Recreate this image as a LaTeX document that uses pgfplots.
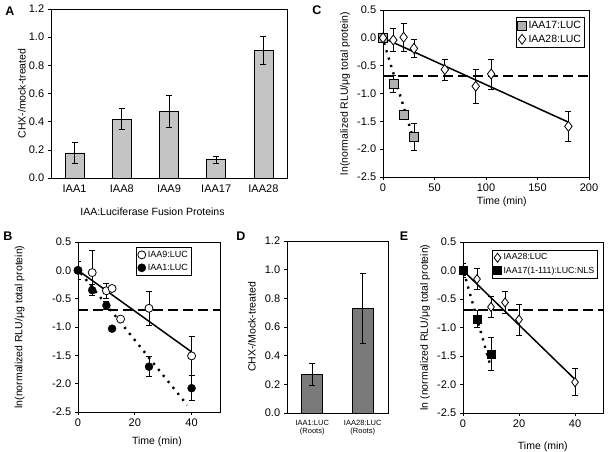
\documentclass[border=0pt]{standalone}
\usepackage{fontspec}
\setmainfont{Liberation Sans}
\usepackage{pgfplots}
\pgfplotsset{compat=1.18}
\definecolor{barA}{HTML}{C4C4C4}
\definecolor{barD}{HTML}{7A7A7A}
\definecolor{sqC}{HTML}{B0B0B0}
\pgfplotsset{
  panel/.style={scale only axis, anchor=south west,
    axis line style={line width=0.8pt}, tick align=outside, major tick length=3pt,
    tick style={line width=0.6pt, black}, tick pos=left,
    /pgf/number format/assume math mode=true,
    tick label style={font=\fontsize{11}{13}\selectfont},
    label style={font=\fontsize{10.5}{12.5}\selectfont},
    y tick label style={/pgf/number format/.cd, fixed, fixed zerofill, precision=1, /tikz/.cd},
    ylabel style={anchor=center}, xlabel style={anchor=center},
    legend cell align=left,
    legend style={draw=black, line width=0.6pt, inner sep=1.5pt, row sep=1pt},
  },
  myerr/.style={error bars/.cd, y dir=both, y explicit,
    error bar style={line width=0.8pt, black, solid},
    error mark options={rotate=90, mark size=3pt, line width=0.8pt, black, solid}},
  halfline/.style={black, line width=2pt, dash pattern=on 10pt off 5pt, forget plot},
  fitline/.style={black, line width=1.5pt, forget plot},
  dotline/.style={black, line width=2.4pt, dash pattern=on 2.2pt off 5.5pt, forget plot},
}
\begin{document}
\fontsize{11}{13}\selectfont
\begin{tikzpicture}[x=1pt,y=1pt]
\useasboundingbox (0,0) rectangle (608,452);
% panel letters
\node[font=\bfseries\fontsize{12.5}{14}\selectfont] at (10pt,441pt) {A};
\node[font=\bfseries\fontsize{12.5}{14}\selectfont] at (8pt,216pt) {B};
\node[font=\bfseries\fontsize{12.5}{14}\selectfont] at (317pt,442pt) {C};
\node[font=\bfseries\fontsize{12.5}{14}\selectfont] at (241pt,216pt) {D};
\node[font=\bfseries\fontsize{12.5}{14}\selectfont] at (404pt,216pt) {E};

% ---------------- A
\begin{axis}[panel, at={(51pt,274pt)}, width=236pt, height=169pt,
  ymin=0, ymax=1.2, ytick={0,0.2,0.4,0.6,0.8,1.0,1.2},
  xmin=-0.5, xmax=4.5, xtick={0,1,2,3,4},
  xticklabels={IAA1,IAA8,IAA9,IAA17,IAA28}, x tick style={draw=none},
  ylabel={CHX-/mock-treated}, xlabel={IAA:Luciferase Fusion Proteins},
  ylabel style={at={(axis description cs:-0.123,0.5)}},
  xlabel style={at={(axis description cs:0.43,-0.2)}}]
\addplot[ybar, bar width=19pt, fill=barA, draw=black, line width=0.8pt, myerr]
  coordinates {(0,0.178) +- (0,0.074) (1,0.417) +- (0,0.074) (2,0.470) +- (0,0.113)
               (3,0.130) +- (0,0.025) (4,0.908) +- (0,0.100)};
\end{axis}

% ---------------- C
\begin{axis}[panel, at={(383pt,275pt)}, width=206pt, height=167pt,
  xmin=0, xmax=200, xtick={0,50,100,150,200},
  ymin=-2.5, ymax=0.5, ytick={-2.5,-2,-1.5,-1,-0.5,0,0.5},
  ylabel={ln(normalized RLU/μg total protein)}, xlabel={Time (min)},
  ylabel style={at={(axis description cs:-0.184,0.5)}},
  xlabel style={at={(axis description cs:0.577,-0.15)}},
  legend style={at={(0.98,0.958)}, anchor=north east, font=\fontsize{10.5}{12}\selectfont}]
\addplot[halfline] coordinates {(0,-0.693) (200,-0.693)};
\addplot[fitline] coordinates {(0,0) (180,-1.515)};
\addplot[dotline] coordinates {(1,-0.09) (31,-1.9)};
\addplot[only marks, mark=square*, mark size=4.5pt, mark options={fill=sqC, draw=black, line width=0.6pt}, myerr]
  table[x=x, y=y, y error=e] {
x y e
0 0 0.05
10 -0.83 0.15
20 -1.38 0.08
30 -1.78 0.25
};
\addlegendentry{IAA17:LUC}
\addplot[only marks, mark=diamond*, mark size=5pt, mark options={fill=white, draw=black, line width=0.8pt}, myerr]
  table[x=x, y=y, y error=e] {
x y e
0 0 0.05
10 -0.04 0.21
20 0.01 0.25
30 -0.19 0.17
60 -0.57 0.19
90 -0.87 0.30
105 -0.65 0.27
180 -1.59 0.27
};
\addlegendentry{IAA28:LUC}
\end{axis}

% ---------------- B
\begin{axis}[panel, at={(78pt,40pt)}, width=142pt, height=170pt,
  xmin=0, xmax=50, xtick={0,20,40},
  ymin=-2.5, ymax=0.5, ytick={-2.5,-2,-1.5,-1,-0.5,0,0.5},
  ylabel={ln(normalized RLU/μg total protein)}, xlabel={Time (min)},
  ylabel style={at={(axis description cs:-0.41,0.5)}},
  xlabel style={at={(axis description cs:0.556,-0.175)}},
  legend style={at={(0.80,0.97)}, anchor=north east, font=\fontsize{9}{10.5}\selectfont}]
\addplot[halfline] coordinates {(0,-0.693) (50,-0.693)};
\addplot[fitline] coordinates {(0,0) (40,-1.44)};
\addplot[dotline] coordinates {(1,-0.05) (38.5,-2.38)};
\addplot[only marks, mark=*, mark size=4pt, mark options={fill=white, draw=black, line width=0.8pt}, myerr]
  table[x=x, y=y, y error=e] {
x y e
0 0 0.05
5 -0.04 0.40
10 -0.36 0.13
12 -0.32 0.05
15 -0.86 0.05
25 -0.67 0.30
40 -1.51 0.35
};
\addlegendentry{IAA9:LUC}
\addplot[only marks, mark=*, mark size=4pt, mark options={fill=black, draw=black}, myerr]
  table[x=x, y=y, y error=e] {
x y e
0 0 0.16
5 -0.35 0.10
10 -0.62 0.07
12 -1.03 0.03
25 -1.70 0.18
40 -2.08 0.22
};
\addlegendentry{IAA1:LUC}
\end{axis}

% ---------------- D
\begin{axis}[panel, at={(287pt,39pt)}, width=101pt, height=172pt,
  ymin=0, ymax=1.2, ytick={0,0.2,0.4,0.6,0.8,1.0,1.2},
  xmin=-0.5, xmax=1.5, xtick={0,1},
  xticklabels={{IAA1:LUC\\(Roots)},{IAA28:LUC\\(Roots)}},
  x tick label style={align=center, font=\fontsize{7.5}{8.5}\selectfont},
  x tick style={draw=none},
  ylabel={CHX-/Mock-treated},
  ylabel style={at={(axis description cs:-0.347,0.5)}}]
\addplot[ybar, bar width=21pt, fill=barD, draw=black, line width=0.8pt, myerr]
  coordinates {(0,0.268) +- (0,0.075) (1,0.730) +- (0,0.245)};
\end{axis}

% ---------------- E
\begin{axis}[panel, at={(463pt,39pt)}, width=140pt, height=171pt,
  xmin=0, xmax=50, xtick={0,20,40},
  ymin=-2.5, ymax=0.5, ytick={-2.5,-2,-1.5,-1,-0.5,0,0.5},
  ylabel={ln (normalized RLU/μg total protein)}, xlabel={Time (min)},
  ylabel style={at={(axis description cs:-0.27,0.5)}},
  xlabel style={at={(axis description cs:0.57,-0.197)}},
  legend style={at={(0.964,0.953)}, anchor=north east, font=\fontsize{8.8}{10.5}\selectfont}]
\addplot[halfline] coordinates {(0,-0.693) (50,-0.693)};
\addplot[fitline] coordinates {(0,0) (40,-1.91)};
\addplot[dotline] coordinates {(1,-0.15) (9.5,-1.62)};
\addplot[only marks, mark=diamond*, mark size=4.5pt, mark options={fill=white, draw=black, line width=0.8pt}, myerr]
  table[x=x, y=y, y error=e] {
x y e
0 0 0.12
5 -0.15 0.18
10 -0.64 0.19
15 -0.56 0.20
20 -0.86 0.27
40 -1.96 0.24
};
\addlegendentry{IAA28:LUC}
\addplot[only marks, mark=square*, mark size=4pt, mark options={fill=black, draw=black}, myerr]
  table[x=x, y=y, y error=e] {
x y e
0 0 0.08
5 -0.85 0.15
10 -1.46 0.29
};
\addlegendentry{IAA17(1-111):LUC:NLS}
\end{axis}
\end{tikzpicture}
\end{document}
